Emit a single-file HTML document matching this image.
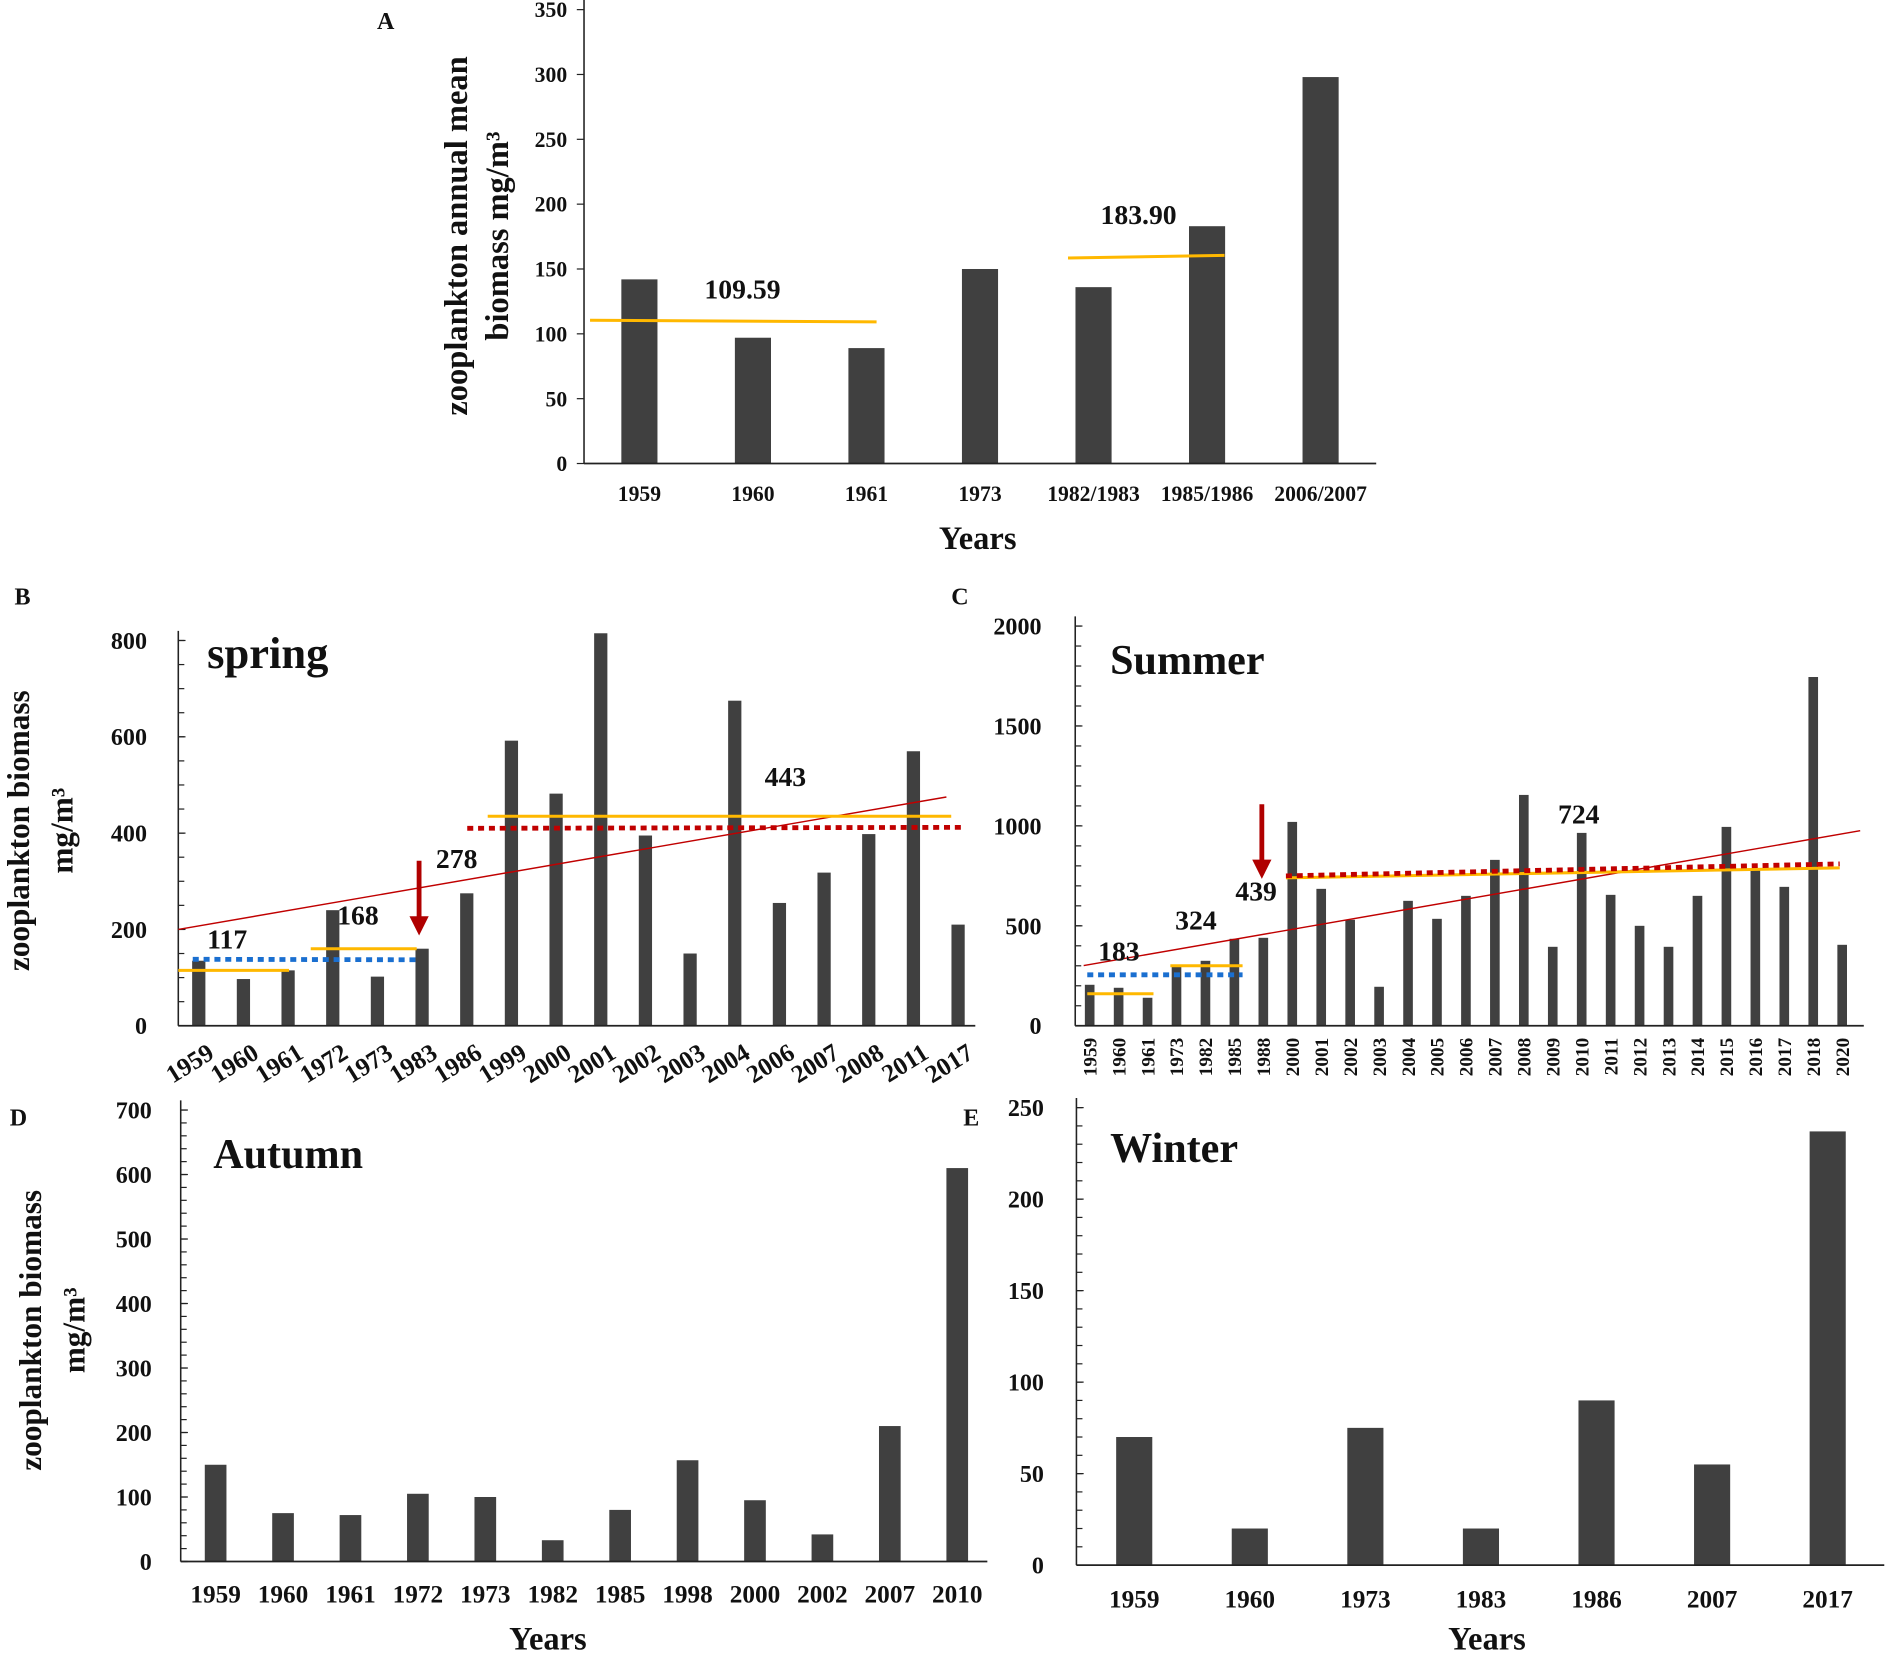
<!DOCTYPE html>
<html><head><meta charset="utf-8"><style>
html,body{margin:0;padding:0;background:#fff}
svg{display:block}
text{font-family:"Liberation Serif",serif;font-weight:bold;fill:#111}
</style></head><body>
<svg id="fig" xmlns="http://www.w3.org/2000/svg" width="1888" height="1653" viewBox="0 0 1568 1373"></svg>
<script>
// Panel A
const catsA=["1959","1960","1961","1973","1982/1983","1985/1986","2006/2007"];
const valsA=[142,97,89,150,136,183,298];
const ticksA=[0,50,100,150,200,250,300,350];
// Panel B spring
const catsB=["1959","1960","1961","1972","1973","1983","1986","1999","2000","2001","2002","2003","2004","2006","2007","2008","2011","2017"];
const valsB=[135,97,115,240,102,160,275,592,482,815,395,150,675,255,318,398,570,210];
const ticksB=[0,200,400,600,800];
// Panel C summer
const catsC=["1959","1960","1961","1973","1982","1985","1988","2000","2001","2002","2003","2004","2005","2006","2007","2008","2009","2010","2011","2012","2013","2014","2015","2016","2017","2018","2020"];
const valsC=[205,190,140,305,325,435,440,1020,685,530,195,625,535,650,830,1155,395,965,655,500,395,650,995,780,695,1745,405];
const ticksC=[0,500,1000,1500,2000];
// Panel D autumn
const catsD=["1959","1960","1961","1972","1973","1982","1985","1998","2000","2002","2007","2010"];
const valsD=[150,75,72,105,100,33,80,157,95,42,210,610];
const ticksD=[0,100,200,300,400,500,600,700];
// Panel E winter
const catsE=["1959","1960","1973","1983","1986","2007","2017"];
const valsE=[70,20,75,20,90,55,237];
const ticksE=[0,50,100,150,200,250];

const NS="http://www.w3.org/2000/svg";
const svg=document.getElementById('fig');
function el(tag,attrs,parent,txt){const e=document.createElementNS(NS,tag);for(const k in attrs)e.setAttribute(k,attrs[k]);if(txt!==undefined)e.textContent=txt;(parent||svg).appendChild(e);return e;}

function panel(p){
  const g=el('g',{});
  
  
  const ys=v=>p.y0-v/p.ymax*(p.y0-p.ytop);
  const xs=i=>p.x1+i*p.step;
  p.ys=ys;p.xs=xs;
  p.vals.forEach((v,i)=>{
    const r=el('rect',{x:xs(i)-p.bw/2,y:ys(v),width:p.bw,height:p.y0-ys(v),fill:'#404040'},g);
    
    
  });
  const ya=el('line',{x1:p.ax,y1:p.y0,x2:p.ax,y2:p.ytop-8,stroke:'#222','stroke-width':1.3},g);
  
  const xa=el('line',{x1:p.ax,y1:p.y0,x2:p.xend,y2:p.y0,stroke:'#222','stroke-width':1.5},g);
  
  const dir=p.inward?1:-1;
  if(p.minor){for(let v=0;v<=p.ymax+0.001;v+=p.minor){el('line',{x1:p.ax,y1:ys(v),x2:p.ax+dir*5,y2:ys(v),stroke:'#222','stroke-width':1},g);}}
  p.ticks.forEach(t=>{
    el('line',{x1:p.ax,y1:ys(t),x2:p.ax+dir*6,y2:ys(t),stroke:'#222','stroke-width':1},g);
    const tx=el('text',{x:p.ax-p.tgap,y:ys(t)+p.tfs*0.35,'text-anchor':'end','font-size':p.tfs},g,String(t));
    
  });
  p.cats.forEach((c,i)=>{
    let tx;
    if(p.rot==='v'){tx=el('text',{x:0,y:0,'text-anchor':'end','font-size':p.xfs,transform:`translate(${xs(i)+p.xfs*0.35},${p.y0+10}) rotate(-90)`},g,c);}
    else if(p.rot==='d'){tx=el('text',{x:0,y:0,'text-anchor':'end','font-size':p.xfs,transform:`translate(${xs(i)+14},${p.y0+26}) rotate(-32)`},g,c);}
    else{tx=el('text',{x:xs(i),y:p.y0+p.xgap,'text-anchor':'middle','font-size':p.xfs},g,c);}
    
  });
  return g;
}
function line(x1,y1,x2,y2,col,w,dash,name){const l=el('line',{x1,y1,x2,y2,stroke:col,'stroke-width':w});if(dash)l.setAttribute('stroke-dasharray',dash);
  return l;}
function txt(x,y,s,fs,name,extra){const t=el('text',Object.assign({x,y,'font-size':fs},extra||{}),svg,s);return t;}
function arrow(x,y1,y2,name){const g=el('g',{});
  el('line',{x1:x,y1:y1,x2:x,y2:y2-14,stroke:'#b00000','stroke-width':4},g);
  el('polygon',{points:`${x-8},${y2-16} ${x+8},${y2-16} ${x},${y2}`,fill:'#b00000'},g);}
const OR='#ffb800',BL='#1a6fd0',RD='#c00000';

// A
const A={name:'panel-a-annual',cats:catsA,vals:valsA,ticks:ticksA,ymax:350,y0:385,ytop:8,ax:485,xend:1143,x1:531,step:94.3,bw:30,tfs:18,tgap:14,xfs:18,xgap:31};
panel(A);
line(490,A.ys(110.5),728,A.ys(109.2),OR,2.5,null,'mean-line-109');
line(887,A.ys(158.5),1017,A.ys(160.5),OR,2.5,null,'mean-line-184');
txt(585,248,'109.59',23,'mean-label-109');
txt(914,186,'183.90',23,'mean-label-184');
txt(812,456,'Years',27,'x-axis-title-a',{'text-anchor':'middle'});
txt(0,0,'zooplankton  annual  mean',27,'y-axis-title-a',{'text-anchor':'middle',transform:'translate(388,196) rotate(-90)'});
txt(0,0,'biomass   mg/m³',27,'y-axis-title-a2',{'text-anchor':'middle',transform:'translate(422,196) rotate(-90)'});
txt(313,24,'A',20,'panel-letter-a',{'font-family':'Liberation Sans'});

// B
const B={name:'panel-b-spring',cats:catsB,vals:valsB,ticks:ticksB,ymax:800,y0:852,ytop:532,ax:148,xend:810,x1:165,step:37.1,bw:11,tfs:20,tgap:26,xfs:21,rot:'d',minor:50,inward:true};
panel(B);
line(148,772,786,662,RD,1.2,null,'trend-line-spring');
line(148,B.ys(115),240,B.ys(115),OR,2.5,null,'mean-line-117');
line(258,B.ys(160),346,B.ys(160),OR,2.5,null,'mean-line-168');
line(405,B.ys(435),790,B.ys(435),OR,2.5,null,'mean-line-443');
line(160,B.ys(138),348,B.ys(137),BL,4,'5,4','blue-dotted-mean-spring');
line(388,B.ys(410),802,B.ys(412),RD,4,'5,4','red-dotted-mean-spring');
arrow(348,715,777,'shift-arrow-spring');
txt(172,788,'117',23,'label-117');txt(280,768,'168',23,'label-168');
txt(362,721,'278',23,'label-278');txt(635,653,'443',23,'label-443');
txt(172,555,'spring',37,'title-spring');
txt(0,0,'zooplankton biomass',26,'y-axis-title-b',{'text-anchor':'middle','fill':'#555',transform:'translate(24,690) rotate(-90)'});
txt(0,0,'mg/m³',26,'y-axis-title-b2',{'text-anchor':'middle','fill':'#555',transform:'translate(60,690) rotate(-90)'});
txt(12,502,'B',20,'panel-letter-b',{'font-family':'Liberation Sans'});

// C
const C={name:'panel-c-summer',cats:catsC,vals:valsC,ticks:ticksC,ymax:2000,y0:852,ytop:520,ax:893,xend:1548,x1:905,step:24.04,bw:8,tfs:20,tgap:28,xfs:16,rot:'v',minor:100,inward:true};
panel(C);
line(900,802,1545,690,RD,1.2,null,'trend-line-summer');
line(903,C.ys(160),958,C.ys(160),OR,2.5,null,'mean-line-183');
line(972,C.ys(300),1032,C.ys(300),OR,2.5,null,'mean-line-324');
line(1068,C.ys(740),1528,C.ys(790),OR,2.5,null,'mean-line-724');
line(903,C.ys(255),1032,C.ys(255),BL,4,'5,4','blue-dotted-mean-summer');
line(1068,C.ys(750),1528,C.ys(810),RD,4,'5,4','red-dotted-mean-summer');
arrow(1048,668,730,'shift-arrow-summer');
txt(912,798,'183',23,'label-183');txt(976,772,'324',23,'label-324');
txt(1026,748,'439',23,'label-439');txt(1294,684,'724',23,'label-724');
txt(922,560,'Summer',35,'title-summer');
txt(790,502,'C',20,'panel-letter-c',{'font-family':'Liberation Sans'});

// D
const D={name:'panel-d-autumn',cats:catsD,vals:valsD,ticks:ticksD,ymax:700,y0:1297,ytop:922,ax:150,xend:820,x1:179,step:56,bw:18,tfs:20,tgap:24,xfs:21,xgap:34,minor:20,inward:true};
panel(D);
txt(177,970,'Autumn',35,'title-autumn');
txt(455,1370,'Years',27,'x-axis-title-d',{'text-anchor':'middle'});
txt(0,0,'zooplankton biomass',26,'y-axis-title-d',{'text-anchor':'middle','fill':'#555',transform:'translate(34,1105) rotate(-90)'});
txt(0,0,'mg/m³',26,'y-axis-title-d2',{'text-anchor':'middle','fill':'#555',transform:'translate(70,1105) rotate(-90)'});
txt(8,935,'D',20,'panel-letter-d',{'font-family':'Liberation Sans'});

// E
const E={name:'panel-e-winter',cats:catsE,vals:valsE,ticks:ticksE,ymax:250,y0:1300,ytop:920,ax:894,xend:1565,x1:942,step:96,bw:30,tfs:20,tgap:27,xfs:21,xgap:35,minor:10,inward:true};
panel(E);
txt(922,965,'Winter',35,'title-winter');
txt(1235,1370,'Years',27,'x-axis-title-e',{'text-anchor':'middle'});
txt(800,935,'E',20,'panel-letter-e',{'font-family':'Liberation Sans'});
</script>
</body></html>
